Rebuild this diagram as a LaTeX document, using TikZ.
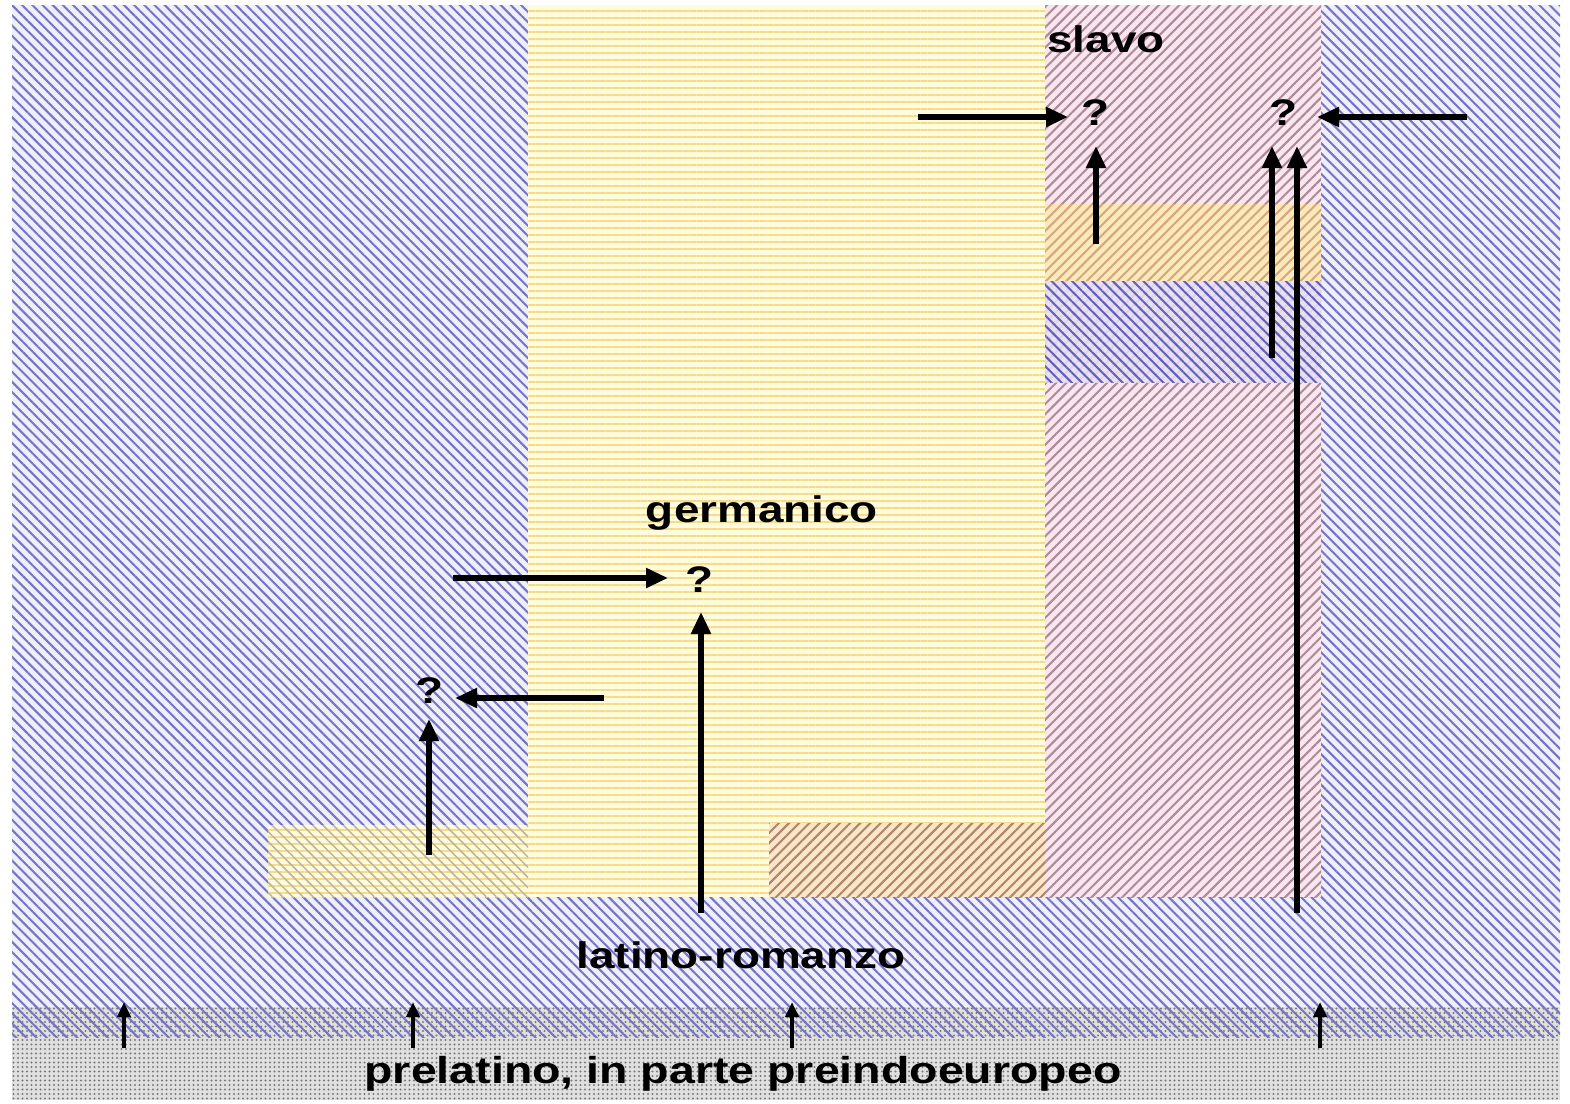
\documentclass[tikz,border=0pt]{standalone}
\usepackage{fontspec}
\setmainfont{Liberation Sans}
\newfontfamily\blk{Liberation Sans}[FakeStretch=1.24]
\usetikzlibrary{patterns.meta,arrows.meta}
\definecolor{bluebg}{HTML}{EEEEFC}
\definecolor{blueln}{HTML}{7474C2}
\definecolor{yelbg}{HTML}{FFFBDC}
\definecolor{yelln}{HTML}{F2DC88}
\definecolor{pinkbg}{HTML}{FAE6EE}
\definecolor{pinkln}{HTML}{AC8898}
\definecolor{orbg}{HTML}{FBEAB8}
\definecolor{orln}{HTML}{D4A484}
\definecolor{lavbg}{HTML}{E8E0FA}
\definecolor{lavln}{HTML}{6060B8}
\definecolor{tanln}{HTML}{BCB2A2}
\definecolor{brbg}{HTML}{FAE6C8}
\definecolor{brln}{HTML}{B08268}
\definecolor{graybg}{HTML}{E0E0E0}
\definecolor{grayln}{HTML}{7A7A7A}
\tikzset{
  bslash/.style={pattern={Lines[angle=-45,distance=7.2pt,line width=2pt]}},
  fslash/.style={pattern={Lines[angle=45,distance=7.2pt,line width=2pt]}},
  hlines/.style={pattern={Lines[angle=0,distance=7pt,line width=2.8pt]}},
  dots/.style={pattern={Dots[distance=4.5pt,radius=1.2pt]}},
  lbl/.style={font=\blk\bfseries\fontsize{37}{40}\selectfont,anchor=base,inner sep=0pt},
  qm/.style={font=\blk\bfseries\fontsize{37}{40}\selectfont,anchor=base,inner sep=0pt},
  arr/.style={line width=5.2pt,-{Triangle[length=22pt,width=19pt]}},
  sarr/.style={line width=4pt,-{Triangle[length=15pt,width=13pt]}}
}
\begin{document}
\begin{tikzpicture}[x=1pt,y=-1pt]
\useasboundingbox (0,0) rectangle (1570,1103);
\fill[white] (0,0) rectangle (1570,1103);
% blue background
\fill[bluebg] (12,5) rectangle (1560,1007);
\fill[graybg] (12,1007) rectangle (1560,1100);
\fill[dots,pattern color=grayln] (12,1007) rectangle (1560,1100);
\fill[bslash,pattern color=blueln] (12,5) rectangle (1560,1037);
% yellow column
\fill[yelbg] (528,5) rectangle (1045,897);
\fill[hlines,pattern color=yelln] (528,5) rectangle (1045,897);
% pink column
\fill[pinkbg] (1045,5) rectangle (1321,897);
\fill[fslash,pattern color=pinkln] (1045,5) rectangle (1321,897);
% yellow band in pink
\fill[orbg] (1045,204) rectangle (1321,281);
\fill[fslash,pattern color=orln] (1045,204) rectangle (1321,281);
% blue band in pink
\fill[lavbg] (1045,281) rectangle (1321,382);
\fill[fslash,pattern color=pinkln!35] (1045,281) rectangle (1321,382);
\fill[bslash,pattern color=lavln] (1045,281) rectangle (1321,382);
% left box
\fill[yelbg] (268,825) rectangle (528,897);
\fill[hlines,pattern color=yelln] (268,825) rectangle (528,897);
\fill[pattern={Lines[angle=-45,distance=7.2pt,line width=1.5pt]},pattern color=tanln] (268,825) rectangle (528,897);
% right box
\fill[brbg] (769,823) rectangle (1045,897);
\fill[fslash,pattern color=brln] (769,823) rectangle (1045,897);

% labels
\node[lbl] (slavo) at (1106,52) {slavo};
\node[lbl] (germ) at (762,522) {germanico};
\node[lbl] (latrom) at (741,968) {latino-romanzo};
\node[lbl,font=\blk\bfseries\fontsize{37.5}{40}\selectfont] (prel) at (743,1083) {prelatino, in parte preindoeuropeo};
\node[qm] (q1) at (1095,125) {?};
\node[qm] (q2) at (1283,125) {?};
\node[qm] (q3) at (700,592) {?};
\node[qm] (q4) at (430,703) {?};

% arrow coordinates
\coordinate (a1s) at (918,117);  \coordinate (a1e) at (1068,117);
\coordinate (a2s) at (1467,117); \coordinate (a2e) at (1317,117);
\coordinate (a3s) at (1096,244); \coordinate (a3e) at (1096,146);
\coordinate (a4s) at (1272,358); \coordinate (a4e) at (1272,146);
\coordinate (a5s) at (1297,913); \coordinate (a5e) at (1297,146);
\coordinate (a6s) at (453,578);  \coordinate (a6e) at (668,578);
\coordinate (a7s) at (701,913);  \coordinate (a7e) at (701,612);
\coordinate (a8s) at (604,698);  \coordinate (a8e) at (455,698);
\coordinate (a9s) at (429,855);  \coordinate (a9e) at (429,719);
\draw[arr] (a1s) -- (a1e);
\draw[arr] (a2s) -- (a2e);
\draw[arr] (a3s) -- (a3e);
\draw[arr] (a4s) -- (a4e);
\draw[arr] (a5s) -- (a5e);
\draw[arr] (a6s) -- (a6e);
\draw[arr] (a7s) -- (a7e);
\draw[arr] (a8s) -- (a8e);
\draw[arr] (a9s) -- (a9e);
% small arrows
\foreach \x/\n in {124/b1,413/b2,792/b3,1320/b4}{
  \coordinate (\n s) at (\x,1048);
  \coordinate (\n e) at (\x,1002);
  \draw[sarr] (\n s) -- (\n e);
}
\end{tikzpicture}
\end{document}
